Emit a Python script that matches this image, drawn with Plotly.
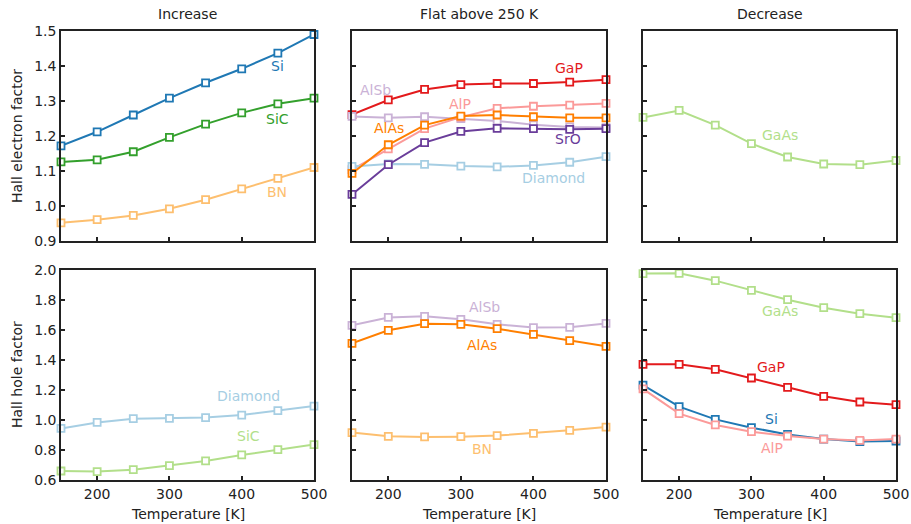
import plotly.graph_objects as go

# Temperatures shared by every series
temperature = [150, 200, 250, 300, 350, 400, 450, 500]

# Hall electron factor, "Increase" group
e_si = [1.172, 1.212, 1.260, 1.308, 1.352, 1.392, 1.437, 1.490]
e_sic = [1.126, 1.132, 1.155, 1.196, 1.234, 1.266, 1.292, 1.308]
e_bn = [0.952, 0.961, 0.973, 0.992, 1.018, 1.049, 1.079, 1.110]

# Hall electron factor, "Flat above 250 K" group
e_gap = [1.261, 1.303, 1.333, 1.347, 1.350, 1.350, 1.354, 1.361]
e_alsb = [1.256, 1.252, 1.255, 1.250, 1.243, 1.232, 1.226, 1.224]
e_alp = [1.104, 1.163, 1.221, 1.254, 1.279, 1.285, 1.288, 1.293]
e_alas = [1.093, 1.175, 1.231, 1.257, 1.260, 1.255, 1.252, 1.252]
e_sro = [1.033, 1.118, 1.181, 1.213, 1.222, 1.221, 1.219, 1.221]
e_diamond = [1.113, 1.120, 1.119, 1.114, 1.112, 1.116, 1.125, 1.141]

# Hall electron factor, "Decrease" group
e_gaas = [1.253, 1.273, 1.231, 1.178, 1.140, 1.120, 1.118, 1.130]

# Hall hole factor, "Increase" group
h_diamond = [0.944, 0.984, 1.009, 1.011, 1.016, 1.033, 1.062, 1.093]
h_sic = [0.660, 0.656, 0.669, 0.696, 0.727, 0.767, 0.802, 0.836]

# Hall hole factor, "Flat above 250 K" group
h_alsb = [1.631, 1.684, 1.691, 1.671, 1.638, 1.616, 1.618, 1.644]
h_alas = [1.511, 1.598, 1.642, 1.638, 1.609, 1.571, 1.529, 1.491]
h_bn = [0.916, 0.891, 0.887, 0.889, 0.896, 0.911, 0.931, 0.953]

# Hall hole factor, "Decrease" group
h_gaas = [1.976, 1.978, 1.929, 1.864, 1.802, 1.749, 1.709, 1.682]
h_gap = [1.371, 1.371, 1.338, 1.280, 1.218, 1.158, 1.120, 1.102]
h_si = [1.233, 1.089, 1.004, 0.949, 0.904, 0.873, 0.856, 0.860]
h_alp = [1.207, 1.042, 0.967, 0.922, 0.893, 0.873, 0.864, 0.873]

panel_titles = ["Increase", "Flat above 250 K", "Decrease"]
row_titles = ["Hall electron factor", "Hall hole factor"]
x_title = "Temperature [K]"

x_ticks = [200, 300, 400, 500]
top_ticks = [0.9, 1.0, 1.1, 1.2, 1.3, 1.4, 1.5]
bottom_ticks = [0.6, 0.8, 1.0, 1.2, 1.4, 1.6, 1.8, 2.0]

# Paired palette
C = {
    "Diamond": "#a6cee3", "Si": "#1f78b4", "GaAs": "#b2df8a", "SiC": "#33a02c",
    "AlP": "#fb9a99", "GaP": "#e31a1c", "BN": "#fdbf6f", "AlAs": "#ff7f00",
    "AlSb": "#cab2d6", "SrO": "#6a3d9a", "SiC_h": "#b2df8a",
}

# (panel index, values, colour, label, label x, label y)
series = [
    (1, e_si, C["Si"], "Si", 449, 1.400),
    (1, e_sic, C["SiC"], "SiC", 450, 1.250),
    (1, e_bn, C["BN"], "BN", 449, 1.040),
    (2, e_gap, C["GaP"], "GaP", 449, 1.394),
    (2, e_alsb, C["AlSb"], "AlSb", 182, 1.331),
    (2, e_alp, C["AlP"], "AlP", 299, 1.291),
    (2, e_diamond, C["Diamond"], "Diamond", 427, 1.080),
    (2, e_alas, C["AlAs"], "AlAs", 201, 1.223),
    (2, e_sro, C["SrO"], "SrO", 448, 1.191),
    (3, e_gaas, C["GaAs"], "GaAs", 340, 1.203),
    (4, h_diamond, C["Diamond"], "Diamond", 410, 1.157),
    (4, h_sic, C["SiC_h"], "SiC", 410, 0.892),
    (5, h_alsb, C["AlSb"], "AlSb", 333, 1.754),
    (5, h_alas, C["AlAs"], "AlAs", 329, 1.502),
    (5, h_bn, C["BN"], "BN", 329, 0.806),
    (6, h_gaas, C["GaAs"], "GaAs", 340, 1.728),
    (6, h_gap, C["GaP"], "GaP", 327, 1.356),
    (6, h_si, C["Si"], "Si", 328, 1.005),
    (6, h_alp, C["AlP"], "AlP", 328, 0.812),
]

W, H = 911, 524
x_domains = [(61 / W, 314 / W), (352 / W, 606 / W), (643 / W, 896 / W)]
y_domains = [(1 - 241 / H, 1 - 31 / H), (1 - 480 / H, 1 - 270 / H)]

FONT = "DejaVu Sans"
FS = 14
AX = "#222222"

fig = go.Figure()
annotations = []

for p in range(1, 7):
    row = (p - 1) // 3
    col = (p - 1) % 3
    xa = "xaxis" if p == 1 else f"xaxis{p}"
    ya = "yaxis" if p == 1 else f"yaxis{p}"
    xref = "x" if p == 1 else f"x{p}"
    yref = "y" if p == 1 else f"y{p}"
    yticks = top_ticks if row == 0 else bottom_ticks
    yrange = [0.9, 1.5] if row == 0 else [0.6, 2.0]
    fig.update_layout(**{
        xa: dict(
            domain=x_domains[col], anchor=yref, range=[150, 500],
            tickvals=x_ticks, showticklabels=(row == 1),
            ticks="inside", ticklen=4, tickwidth=1.5, tickcolor=AX,
            showline=True, mirror=True, linecolor=AX, linewidth=1.6,
            showgrid=False, zeroline=False, automargin=False,
            tickfont=dict(family=FONT, size=FS, color="#222"),
        ),
        ya: dict(
            domain=y_domains[row], anchor=xref, range=yrange,
            tickvals=yticks, tickformat=".1f", showticklabels=(col == 0),
            ticks="inside", ticklen=4, tickwidth=1.5, tickcolor=AX,
            showline=True, mirror=True, linecolor=AX, linewidth=1.6,
            showgrid=False, zeroline=False, automargin=False,
            tickfont=dict(family=FONT, size=FS, color="#222"),
        ),
    })

for p, vals, color, label, lx, ly in series:
    xref = "x" if p == 1 else f"x{p}"
    yref = "y" if p == 1 else f"y{p}"
    fig.add_trace(go.Scatter(
        x=temperature, y=vals, xaxis=xref, yaxis=yref,
        mode="lines+markers", cliponaxis=False, showlegend=False,
        line=dict(color=color, width=2),
        marker=dict(symbol="square", size=7, color="white",
                    line=dict(color=color, width=1.8)),
        hoverinfo="skip",
    ))
    annotations.append(dict(
        x=lx, y=ly, xref=xref, yref=yref, text=label, showarrow=False,
        font=dict(family=FONT, size=FS, color=color),
        xanchor="center", yanchor="middle",
    ))

for i, t in enumerate(panel_titles):
    d = x_domains[i]
    annotations.append(dict(
        x=(d[0] + d[1]) / 2, y=1 - 14 / H, xref="paper", yref="paper",
        text=t, showarrow=False, xanchor="center", yanchor="middle",
        font=dict(family=FONT, size=FS, color="#222"),
    ))
    annotations.append(dict(
        x=(d[0] + d[1]) / 2, y=1 - 514 / H, xref="paper", yref="paper",
        text=x_title, showarrow=False, xanchor="center", yanchor="middle",
        font=dict(family=FONT, size=FS, color="#222"),
    ))

for r, t in enumerate(row_titles):
    d = y_domains[r]
    annotations.append(dict(
        x=17 / W, y=(d[0] + d[1]) / 2, xref="paper", yref="paper",
        text=t, showarrow=False, textangle=-90,
        xanchor="center", yanchor="middle",
        font=dict(family=FONT, size=FS, color="#222"),
    ))

fig.update_layout(
    width=W, height=H,
    margin=dict(l=0, r=0, t=0, b=0, pad=0, autoexpand=False),
    paper_bgcolor="white", plot_bgcolor="white",
    annotations=annotations,
)

fig.write_html("out.html")
